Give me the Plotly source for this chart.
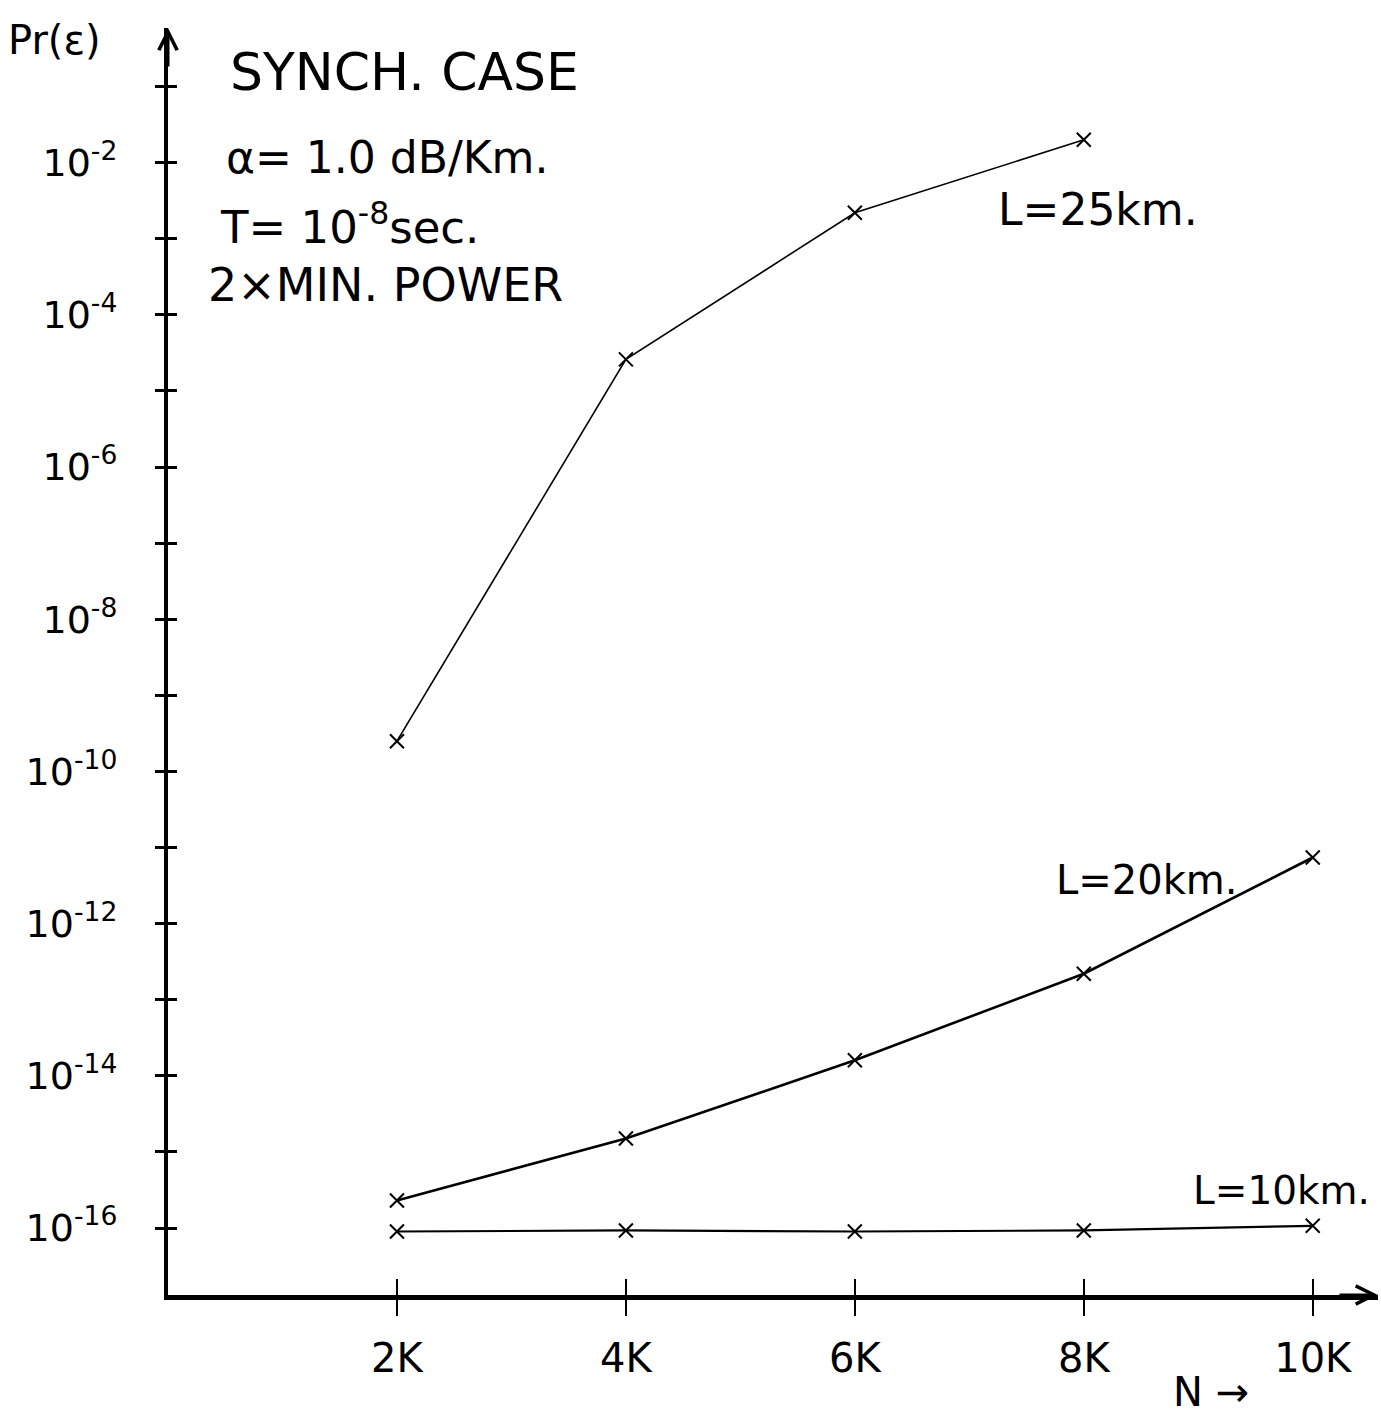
import plotly.graph_objects as go

N = [2000, 4000, 6000, 8000, 10000]
L25_N = [2000, 4000, 6000, 8000]
L25 = [2.5e-10, 2.6e-5, 2.2e-3, 2.0e-2]
L20 = [2.3e-16, 1.5e-15, 1.6e-14, 2.2e-13, 7.4e-12]
L10 = [9.0e-17, 9.3e-17, 9.0e-17, 9.3e-17, 1.07e-16]

x_tickvals = [2000, 4000, 6000, 8000, 10000]
x_ticktext = ["2K", "4K", "6K", "8K", "10K"]
y_exps = list(range(-16, 0))
y_tickvals = [10.0 ** e for e in y_exps]
y_ticktext = [("10<sup>%d</sup>" % e) if e % 2 == 0 else "" for e in y_exps]

FONT = "DejaVu Sans"
black = "#000"

fig = go.Figure()
mk = dict(symbol="x-thin", size=14, line=dict(width=2, color=black), color=black)
fig.add_trace(go.Scatter(x=L25_N, y=L25, mode="lines+markers",
                         line=dict(color=black, width=1.6), marker=mk, showlegend=False))
fig.add_trace(go.Scatter(x=N, y=L20, mode="lines+markers",
                         line=dict(color=black, width=2.6), marker=mk, showlegend=False))
fig.add_trace(go.Scatter(x=N, y=L10, mode="lines+markers",
                         line=dict(color=black, width=2.2), marker=mk, showlegend=False))
# invisible trace on overlay axes so they render
fig.add_trace(go.Scatter(x=[None], y=[None], xaxis="x2", yaxis="y2", showlegend=False))

xr = [0, 10570]
yr = [-16.88, -0.23]

fig.update_layout(
    width=1381, height=1415,
    margin=dict(l=168, r=3, t=28, b=120),
    paper_bgcolor="white", plot_bgcolor="white",
    font=dict(family=FONT, color=black),
    xaxis=dict(range=xr, tickvals=x_tickvals, ticktext=x_ticktext,
               ticks="outside", ticklen=16, tickwidth=1.5, tickcolor=black,
               showline=True, linewidth=5, linecolor=black, showgrid=False, zeroline=False,
               tickfont=dict(size=40, family=FONT), ticklabelstandoff=8),
    yaxis=dict(type="log", range=yr, tickvals=y_tickvals, ticktext=y_ticktext,
               ticks="outside", ticklen=9, tickwidth=3, tickcolor=black,
               showline=True, linewidth=4, linecolor=black, showgrid=False, zeroline=False,
               tickfont=dict(size=38, family=FONT), ticklabelstandoff=30),
    xaxis2=dict(range=xr, overlaying="x", anchor="y", side="bottom", tickvals=x_tickvals,
                ticks="inside", ticklen=16, tickwidth=1.5, tickcolor=black,
                showticklabels=False, showgrid=False, zeroline=False, showline=False),
    yaxis2=dict(type="log", range=yr, overlaying="y", anchor="x", side="left",
                tickvals=y_tickvals, ticks="inside", ticklen=9, tickwidth=3, tickcolor=black,
                showticklabels=False, showgrid=False, zeroline=False, showline=False),
)

def note(text, px, py, size, anchor="left"):
    fig.add_annotation(text=text, xref="paper", yref="paper",
                       x=(px - 168) / 1210, y=(1295 - py) / 1267,
                       xanchor=anchor, yanchor="middle", showarrow=False,
                       font=dict(size=size, family=FONT, color=black))

note("Pr(ε)", 6, 40, 40)
note("SYNCH. CASE", 228, 72, 52)
note("α= 1.0 dB/Km.", 224, 158, 44)
note("T= 10<sup>-8</sup>sec.", 218, 225, 45)
note("2×MIN. POWER", 206, 285, 46)
note("L=25km.", 996, 210, 44)
note("L=20km.", 1054, 880, 40)
note("L=10km.", 1191, 1190, 39)
note("N →", 1171, 1392, 40)

# axis arrowheads
fig.add_annotation(xref="paper", yref="paper", x=1, y=0, ax=-40, ay=0,
                   showarrow=True, arrowhead=5, arrowsize=1.2, arrowwidth=3, arrowcolor=black, text="")
fig.add_annotation(xref="paper", yref="paper", x=0, y=1, ax=0, ay=40,
                   showarrow=True, arrowhead=5, arrowsize=1.2, arrowwidth=3, arrowcolor=black, text="")

fig.write_html("out.html")
